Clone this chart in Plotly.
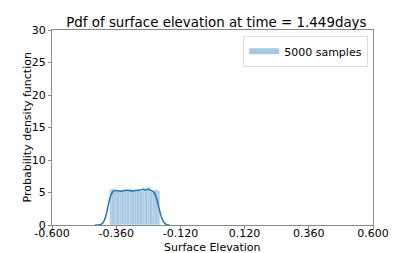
import plotly.graph_objects as go

# Histogram (density) bins
bin_left = -0.385
bin_width = 0.0095
hist_heights = [5.4, 5.5, 5.3, 5.2, 5.3, 5.4, 5.2, 5.3, 5.5, 5.4,
                5.3, 5.2, 5.3, 5.4, 5.5, 5.8, 5.1, 5.3, 5.4, 5.2]
bin_centers = [bin_left + bin_width * (i + 0.5) for i in range(len(hist_heights))]

# KDE curve
kde_x = [-0.44, -0.42, -0.41, -0.40, -0.39, -0.38, -0.37, -0.36, -0.35, -0.34,
         -0.33, -0.32, -0.31, -0.30, -0.29, -0.28, -0.27, -0.26, -0.25, -0.24,
         -0.23, -0.22, -0.21, -0.20, -0.19, -0.18, -0.17, -0.16]
kde_y = [0.0, 0.05, 0.3, 1.2, 3.0, 4.6, 5.2, 5.3, 5.25, 5.2,
         5.3, 5.35, 5.3, 5.25, 5.3, 5.35, 5.4, 5.5, 5.4, 5.5,
         5.3, 5.1, 4.2, 2.6, 1.1, 0.3, 0.05, 0.0]

x_ticks = [-0.6, -0.36, -0.12, 0.12, 0.36, 0.6]
x_tick_labels = ["-0.600", "-0.360", "-0.120", "0.120", "0.360", "0.600"]
y_ticks = [0, 5, 10, 15, 20, 25, 30]
legend_label = "5000 samples"
x_title = "Surface Elevation"
y_title = "Probability density function"

L, R, T, B = 52, 42, 30, 28
W, H = 415, 253
pw, ph = W - L - R, H - T - B

fig = go.Figure()
fig.add_trace(go.Bar(
    x=bin_centers, y=hist_heights, width=bin_width,
    marker=dict(color="rgba(31,119,180,0.4)",
                line=dict(color="rgba(255,255,255,0.3)", width=0.5)),
    name=legend_label, showlegend=False, legendgroup="h",
))
fig.add_trace(go.Scatter(
    x=kde_x, y=kde_y, mode="lines", line=dict(color="#1f77b4", width=1.5, shape="spline"),
    showlegend=False,
))
# legend entry (patch look)
fig.add_trace(go.Scatter(
    x=[None], y=[None], mode="lines",
    line=dict(color="rgba(31,119,180,0.4)", width=6),
    name=legend_label, showlegend=True, legendgroup="h",
))

axis_common = dict(
    showline=True, linecolor="#888888", linewidth=1, mirror=True,
    ticks="outside", ticklen=3, tickcolor="#888888",
    showgrid=False, zeroline=False, automargin=False,
    tickfont=dict(size=11, color="black"),
)
fig.update_layout(
    width=W, height=H,
    margin=dict(l=L, r=R, t=T, b=B),
    paper_bgcolor="white", plot_bgcolor="white",
    font=dict(family="DejaVu Sans", color="black"),
    title=dict(text="Pdf of surface elevation at time = 1.449days",
               x=(L + W - R) / 2 / W, xanchor="center",
               yref="container", y=1 - 22.5 / H, yanchor="middle",
               xref="paper", font=dict(size=13.4)),
    xaxis=dict(range=[-0.6, 0.6], tickvals=x_ticks, ticktext=x_tick_labels,
               ticklabelstandoff=-5, **axis_common),
    yaxis=dict(range=[0, 30], tickvals=y_ticks, **axis_common),
    legend=dict(x=0.985, y=0.97, xanchor="right", yanchor="top",
                bordercolor="#dddddd", borderwidth=1, bgcolor="white",
                font=dict(size=11), itemwidth=30),
    bargap=0,
    annotations=[
        dict(text=x_title, xref="paper", yref="paper", x=0.5, y=-(247 - (T + ph)) / ph,
             xanchor="center", yanchor="middle", showarrow=False, font=dict(size=11)),
        dict(text=y_title, xref="paper", yref="paper", x=-(L - 27) / pw, y=0.5,
             xanchor="center", yanchor="middle", textangle=-90, showarrow=False,
             font=dict(size=11)),
    ],
)
fig.write_html("out.html", config={"displayModeBar": False},
               post_script="document.body.style.margin='0';document.body.style.overflow='hidden';")
